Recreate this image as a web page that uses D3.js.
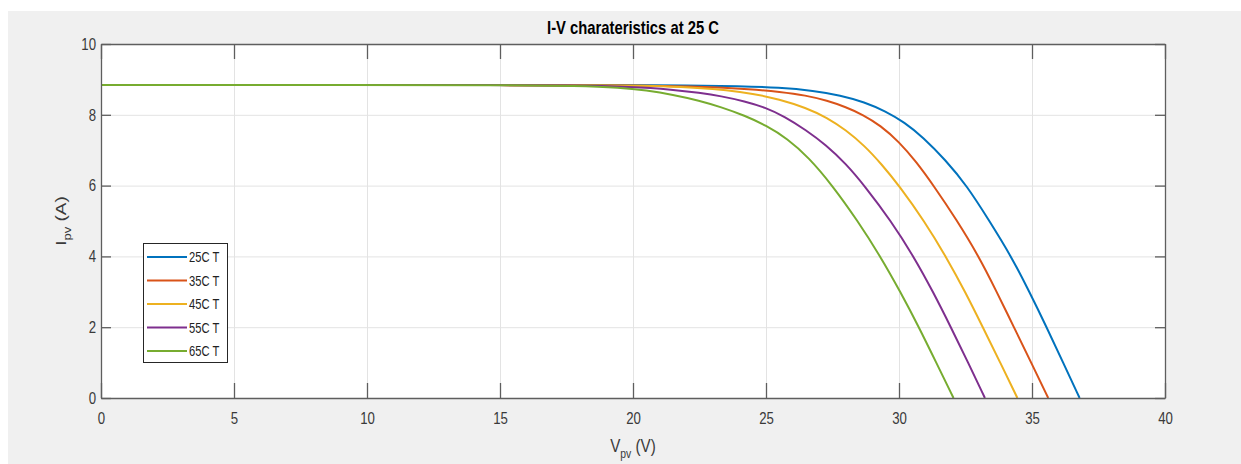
<!DOCTYPE html>
<html><head><meta charset="utf-8">
<script src="https://cdn.jsdelivr.net/npm/d3@7"></script>
<style>
body{margin:0;background:#fff}
svg{display:block}
text{font-family:"Liberation Sans", Arial, Helvetica, sans-serif}
</style>
</head><body>
<svg id="chart" width="1241" height="464"></svg>
<script>
// ---------------- data ----------------
const seriesNames = ["25C T", "35C T", "45C T", "55C T", "65C T"];
const seriesColors = ["#0072BD", "#D95319", "#EDB120", "#7E2F8E", "#77AC30"];

const v25 = [0, 10, 15, 20, 22, 24, 25.5, 26.8, 27.8, 28.7, 29.5, 30.2, 30.9, 31.75, 32.55, 33.4, 34.22, 34.9, 35.55, 36.17, 36.79];
const i25 = [8.84, 8.84, 8.84, 8.84, 8.83, 8.81, 8.77, 8.68, 8.55, 8.36, 8.10, 7.79, 7.37, 6.72, 6.0, 5.0, 4.0, 3.0, 2.0, 1.0, 0];

const v35 = [0, 10, 15, 20, 22.5, 24.5, 25.5, 26.5, 27.3, 28.0, 28.65, 29.3, 30.0, 30.65, 31.3, 32.15, 33.0, 33.66, 34.32, 34.97, 35.61];
const i35 = [8.84, 8.84, 8.84, 8.83, 8.80, 8.72, 8.65, 8.55, 8.40, 8.22, 8.0, 7.70, 7.24, 6.67, 6.0, 5.05, 4.0, 3.02, 2.0, 1.0, 0];

const v45 = [0, 10, 15, 20, 21, 22.5, 23.5, 24.5, 25.5, 26.5, 27.3, 28.0, 28.7, 29.35, 30.0, 30.95, 31.8, 32.5, 33.15, 33.8, 34.45];
const i45 = [8.84, 8.84, 8.84, 8.83, 8.81, 8.76, 8.70, 8.60, 8.44, 8.20, 7.92, 7.57, 7.13, 6.60, 6.0, 5.0, 3.95, 2.98, 2.0, 1.01, 0];

const v55 = [0, 10, 15, 17.5, 20, 21.5, 22.5, 23.3, 24.2, 25.0, 25.7, 26.5, 27.25, 28.0, 28.7, 29.7, 30.55, 31.28, 31.95, 32.6, 33.23];
const i55 = [8.84, 8.84, 8.84, 8.83, 8.79, 8.71, 8.62, 8.53, 8.38, 8.20, 7.95, 7.57, 7.15, 6.62, 6.0, 5.0, 4.0, 3.0, 2.0, 1.0, 0];

const v65 = [0, 10, 15, 18, 19.5, 20.5, 21.5, 22.5, 23.3, 24.2, 25.0, 25.8, 26.6, 27.5, 28.45, 29.3, 30.05, 30.75, 31.4, 32.05];
const i65 = [8.84, 8.84, 8.84, 8.82, 8.77, 8.69, 8.57, 8.40, 8.22, 7.98, 7.70, 7.33, 6.80, 6.0, 5.0, 4.0, 3.0, 2.0, 1.0, 0];

const xTicks = [0, 5, 10, 15, 20, 25, 30, 35, 40];
const yTicks = [0, 2, 4, 6, 8, 10];
const titleText = "I-V charateristics at 25 C";

// ---------------- layout ----------------
const svg = d3.select("#chart");
const L = 101, R = 1165, T = 44, B = 398;
const SX = 0.8; // horizontal text compression seen in the reference

svg.append("rect").attr("x", 8).attr("y", 11).attr("width", 1233).attr("height", 453).attr("fill", "#f0f0f0");
svg.append("rect").attr("x", L).attr("y", T).attr("width", R - L).attr("height", B - T).attr("fill", "#fff");

const x = d3.scaleLinear().domain([0, 40]).range([L, R]);
const y = d3.scaleLinear().domain([0, 10]).range([B, T]);

// grid
const gridX = svg.append("g").attr("transform", `translate(0,${B})`)
  .call(d3.axisBottom(x).tickValues(xTicks).tickSize(-(B - T)).tickFormat(""));
gridX.select(".domain").remove();
gridX.selectAll("line").attr("stroke", "#e3e3e3").attr("stroke-width", 1);
const gridY = svg.append("g").attr("transform", `translate(${L},0)`)
  .call(d3.axisLeft(y).tickValues(yTicks).tickSize(-(R - L)).tickFormat(""));
gridY.select(".domain").remove();
gridY.selectAll("line").attr("stroke", "#e3e3e3").attr("stroke-width", 1);

// curves
const allV = [v25, v35, v45, v55, v65];
const allI = [i25, i35, i45, i55, i65];
const line = d3.line().x(d => x(d[0])).y(d => y(d[1])).curve(d3.curveBasis);
allV.forEach((vs, k) => {
  const pts = vs.map((v, j) => [v, allI[k][j]]);
  svg.append("path").datum(pts).attr("d", line)
    .attr("fill", "none").attr("stroke", seriesColors[k]).attr("stroke-width", 2)
    .attr("stroke-linejoin", "round");
});

// axes
const axisColor = "#5e5e5e";
const labelColor = "#3a3a3a";
function styleAxis(g) {
  g.select(".domain").attr("stroke", axisColor).attr("stroke-width", 1.3);
  g.selectAll(".tick line").attr("stroke", axisColor).attr("stroke-width", 1.3);
}
const xAxis = svg.append("g").attr("transform", `translate(0,${B})`)
  .call(d3.axisBottom(x).tickValues(xTicks).tickSizeInner(-15).tickSizeOuter(0).tickPadding(14));
styleAxis(xAxis);
xAxis.selectAll(".tick text").attr("font-size", 16.5).attr("fill", labelColor)
  .attr("font-family", "Liberation Sans, Arial, sans-serif")
  .attr("transform", `scale(${SX},1)`);

const xTop = svg.append("g").attr("transform", `translate(0,${T})`)
  .call(d3.axisTop(x).tickValues(xTicks).tickSizeInner(-15).tickSizeOuter(0).tickFormat(""));
styleAxis(xTop);

const yAxis = svg.append("g").attr("transform", `translate(${L},0)`)
  .call(d3.axisLeft(y).tickValues(yTicks).tickSizeInner(-10).tickSizeOuter(0).tickPadding(5));
styleAxis(yAxis);
yAxis.selectAll(".tick text").attr("font-size", 16.5).attr("fill", labelColor)
  .attr("font-family", "Liberation Sans, Arial, sans-serif")
  .attr("x", -5 / SX)
  .attr("transform", `scale(${SX},1)`);

const yRight = svg.append("g").attr("transform", `translate(${R},0)`)
  .call(d3.axisRight(y).tickValues(yTicks).tickSizeInner(-10).tickSizeOuter(0).tickFormat(""));
styleAxis(yRight);

// title
svg.append("text").attr("transform", `translate(633,34) scale(${SX},1)`)
  .attr("text-anchor", "middle").attr("font-size", 18.5).attr("font-weight", "bold")
  .attr("fill", "#000").text(titleText);

// x label
const xl = svg.append("text").attr("transform", `translate(633,452) scale(${SX},1)`)
  .attr("text-anchor", "middle").attr("font-size", 19).attr("fill", labelColor);
xl.append("tspan").text("V");
xl.append("tspan").attr("font-size", 13).attr("dy", 6).text("pv");
xl.append("tspan").attr("dy", -6).text(" (V)");

// y label
const yl = svg.append("text").attr("transform", `translate(66,221) rotate(-90) scale(1,${SX})`)
  .attr("text-anchor", "middle").attr("font-size", 19).attr("fill", labelColor);
yl.append("tspan").text("I");
yl.append("tspan").attr("font-size", 13).attr("dy", 6).text("pv");
yl.append("tspan").attr("dy", -6).text(" (A)");

// legend
const lg = svg.append("g");
lg.append("rect").attr("x", 143.5).attr("y", 243.5).attr("width", 84).attr("height", 119)
  .attr("fill", "#fff").attr("stroke", "#262626").attr("stroke-width", 1);
const legY = d3.scalePoint().domain(seriesNames).range([257, 351]);
seriesNames.forEach((n, k) => {
  const yy = legY(n);
  lg.append("line").attr("x1", 147).attr("x2", 187).attr("y1", yy).attr("y2", yy)
    .attr("stroke", seriesColors[k]).attr("stroke-width", 2.2);
  lg.append("text").attr("transform", `translate(189,${yy}) scale(${SX},1)`)
    .attr("dy", "0.36em").attr("font-size", 14).attr("fill", "#222").text(n);
});
</script>
</body></html>
